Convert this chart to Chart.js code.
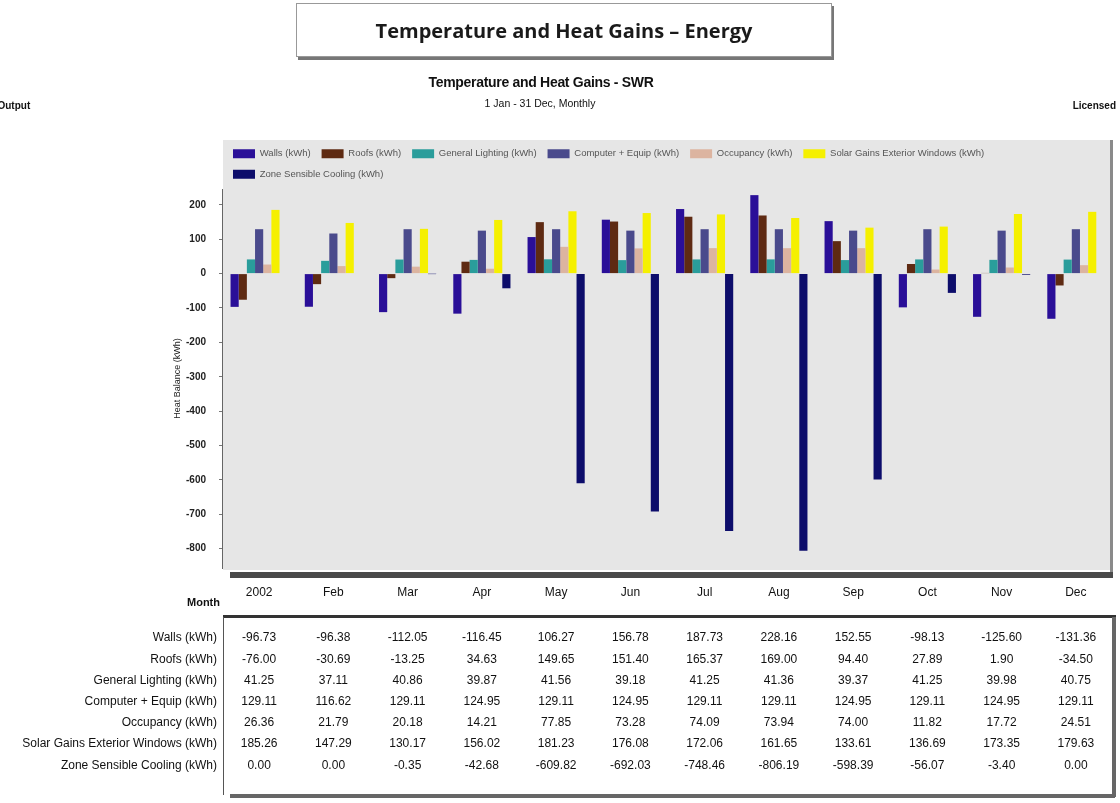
<!DOCTYPE html>
<html>
<head>
<meta charset="utf-8">
<script src="https://cdn.jsdelivr.net/npm/chart.js@4/dist/chart.umd.min.js"></script>
<style>
  body { margin: 0; background: #fff; }
  #wrap { position: relative; width: 1120px; height: 803px; overflow: hidden; }
  #heatChart { position: absolute; left: 0; top: 0; }
  .txt { position: absolute; white-space: nowrap; color: #111; font-family: "Liberation Sans", Arial, sans-serif; }
  #mainBox { position: absolute; left: 296px; top: 3px; width: 534px; height: 52px; border: 1px solid #999;
    box-shadow: 2px 3px 0 #777; text-align: center;
    font: bold 20px "Open Sans", "Liberation Sans", sans-serif; line-height: 54px; color: #1a1a1a; }
</style>
</head>
<body>
<div id="wrap">
  <canvas id="heatChart" width="1120" height="803"></canvas>
  <div id="mainBox">Temperature and Heat Gains – Energy</div>
  <div class="txt" style="left:0;width:1082px;top:74px;text-align:center;font-size:14px;font-weight:bold;letter-spacing:-0.3px;">Temperature and Heat Gains - SWR</div>
  <div class="txt" style="left:0;width:1080px;top:97px;text-align:center;font-size:10.5px;">1 Jan - 31 Dec, Monthly</div>
  <div class="txt" style="left:-27px;top:100px;font-size:10px;font-weight:bold;">Data Output</div>
  <div class="txt" style="right:4px;top:100px;font-size:10px;font-weight:bold;">Licensed</div>
</div>
<script>
const months = ['2002', 'Feb', 'Mar', 'Apr', 'May', 'Jun', 'Jul', 'Aug', 'Sep', 'Oct', 'Nov', 'Dec'];
const walls = [-96.73, -96.38, -112.05, -116.45, 106.27, 156.78, 187.73, 228.16, 152.55, -98.13, -125.60, -131.36];
const roofs = [-76.00, -30.69, -13.25, 34.63, 149.65, 151.40, 165.37, 169.00, 94.40, 27.89, 1.90, -34.50];
const lighting = [41.25, 37.11, 40.86, 39.87, 41.56, 39.18, 41.25, 41.36, 39.37, 41.25, 39.98, 40.75];
const equip = [129.11, 116.62, 129.11, 124.95, 129.11, 124.95, 129.11, 129.11, 124.95, 129.11, 124.95, 129.11];
const occupancy = [26.36, 21.79, 20.18, 14.21, 77.85, 73.28, 74.09, 73.94, 74.00, 11.82, 17.72, 24.51];
const solar = [185.26, 147.29, 130.17, 156.02, 181.23, 176.08, 172.06, 161.65, 133.61, 136.69, 173.35, 179.63];
const cooling = [0.00, 0.00, -0.35, -42.68, -609.82, -692.03, -748.46, -806.19, -598.39, -56.07, -3.40, 0.00];
const yTicks = [200, 100, 0, -100, -200, -300, -400, -500, -600, -700, -800];

const series = [
  { label: 'Walls (kWh)', data: walls, color: '#2a0f98' },
  { label: 'Roofs (kWh)', data: roofs, color: '#5e2a12' },
  { label: 'General Lighting (kWh)', data: lighting, color: '#2a9d9b' },
  { label: 'Computer + Equip (kWh)', data: equip, color: '#4a4a8c' },
  { label: 'Occupancy (kWh)', data: occupancy, color: '#dcb4a0' },
  { label: 'Solar Gains Exterior Windows (kWh)', data: solar, color: '#f5f000' },
  { label: 'Zone Sensible Cooling (kWh)', data: cooling, color: '#0d0d6b' }
];

const fam = '"Liberation Sans", Arial, sans-serif';

// grey plot panel behind legend + bars
const panel = {
    id: 'panel',
    beforeDraw(chart) {
        const c = chart.ctx, a = chart.chartArea, top = chart.legend.top + 2;
        c.save();
        c.fillStyle = '#e6e6e6';
        c.fillRect(a.left + 1, top, a.right - a.left - 3, a.bottom - top + 2);
        c.fillStyle = '#8a8a8a';
        c.fillRect(a.right - 3, top, 3, a.bottom - top + 4);
        c.fillStyle = '#4a4a4a';
        c.fillRect(a.left + 8, a.bottom + 4, a.right - a.left - 8, 6);
        c.restore();
    }
};

// data table under the chart, columns follow the x scale
const table = {
    id: 'table',
    afterDraw(chart) {
        const c = chart.ctx, x = chart.scales.x, a = chart.chartArea;
        c.save();
        c.fillStyle = '#111';
        c.textBaseline = 'middle';
        c.font = '12px ' + fam;
        c.textAlign = 'center';
        months.forEach((m, i) => c.fillText(m, x.getPixelForValue(i), 593));
        c.textAlign = 'right';
        c.font = 'bold 11px ' + fam;
        c.fillText('Month', 220, 603);
        c.font = '12px ' + fam;
        series.forEach((s, r) => {
            const y = 638 + r * 21.2;
            c.textAlign = 'right';
            c.fillText(s.label, 217, y);
            c.textAlign = 'center';
            s.data.forEach((v, i) => c.fillText(v.toFixed(2), x.getPixelForValue(i), y));
        });
        c.fillStyle = '#333';
        c.fillRect(a.left + 1, 615, a.right - a.left + 2, 3);
        c.fillStyle = '#555';
        c.fillRect(a.left + 1, 617, 1, 178);
        c.fillStyle = '#666';
        c.fillRect(a.right - 1, 617, 4, 180);
        c.fillRect(a.left + 8, 794, a.right - a.left - 6, 4);
        c.restore();
    }
};

new Chart(document.getElementById('heatChart'), {
    type: 'bar',
    data: {
        labels: months,
        datasets: series.map(s => ({
            label: s.label,
            data: s.data,
            backgroundColor: s.color,
            borderColor: s.color,
            borderWidth: 0
        }))
    },
    options: {
        responsive: false,
        devicePixelRatio: 1,
        animation: false,
        barPercentage: 1,
        categoryPercentage: 0.77,
        layout: { padding: { top: 138, bottom: 235, left: 170, right: 7 } },
        plugins: {
            legend: {
                position: 'top',
                align: 'start',
                fullSize: false,
                labels: {
                    boxWidth: 22,
                    boxHeight: 9,
                    padding: 11,
                    color: '#555',
                    font: { size: 9.5, family: fam }
                }
            },
            tooltip: { enabled: false }
        },
        scales: {
            x: { display: false },
            y: {
                min: -856,
                max: 246,
                afterFit(scale) { scale.width = 52; },
                afterBuildTicks(scale) { scale.ticks = yTicks.map(v => ({ value: v })); },
                ticks: { color: '#222', font: { size: 10, family: fam, weight: 'bold' }, padding: 13 },
                grid: { drawOnChartArea: false, drawTicks: true, tickLength: 3, color: '#777' },
                border: { display: true, color: '#666', width: 1 },
                title: { display: true, text: 'Heat Balance (kWh)', color: '#222', font: { size: 9, family: fam }, padding: 2 }
            }
        }
    },
    plugins: [panel, table]
});
</script>
</body>
</html>
